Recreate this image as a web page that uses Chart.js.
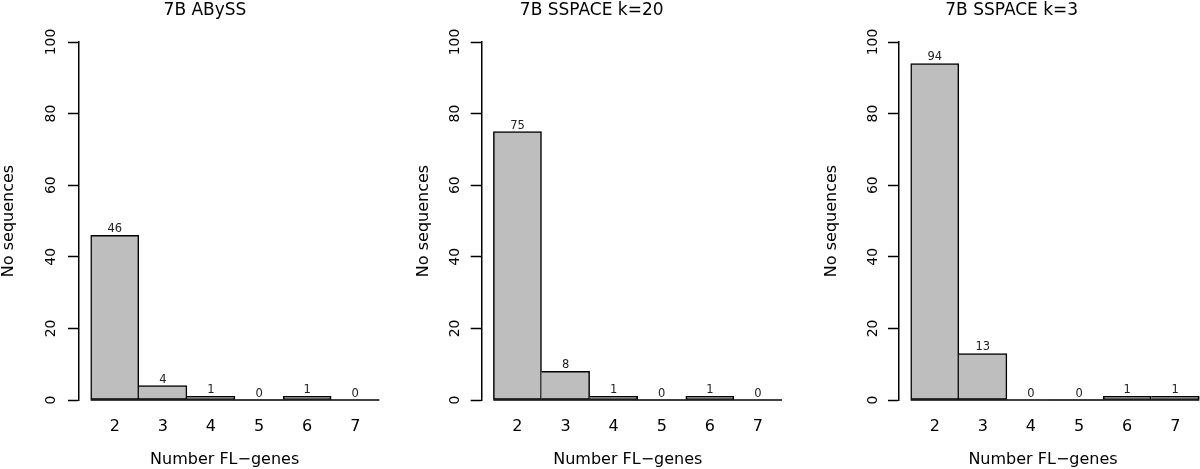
<!DOCTYPE html>
<html>
<head>
<meta charset="utf-8">
<script src="https://cdn.jsdelivr.net/npm/chart.js@4/dist/chart.umd.min.js"></script>
<style>
  html, body { margin: 0; padding: 0; background: #fff; }
  #wrap { position: relative; width: 1200px; height: 469px; display: flex; }
  canvas { display: block; }
</style>
</head>
<body>
<div id="wrap">
  <canvas id="c1" width="400" height="469"></canvas>
  <canvas id="c2" width="400" height="469"></canvas>
  <canvas id="c3" width="400" height="469"></canvas>
</div>
<script>
// data
const categories = [2, 3, 4, 5, 6, 7];
const yTicks = [0, 20, 40, 60, 80, 100];
const panelTitles = ['7B ABySS', '7B SSPACE k=20', '7B SSPACE k=3'];
const abyssCounts = [46, 4, 1, 0, 1, 0];
const sspaceK20Counts = [75, 8, 1, 0, 1, 0];
const sspaceK3Counts = [94, 13, 0, 0, 1, 1];
const xTitle = 'Number FL\u2212genes';
const yTitle = 'No sequences';

// layout (px, relative to each 400px panel)
const W = 400, H = 469;
const UNIT = 48.1;      // px per bar
const GAP = 11.7;       // between y axis and first bar
const TICK_LEN = 11;
const Y_TICK_SIZE = 14;
const FONT = 'DejaVu Sans';
const layouts = [
  { axisX: 79, titleX: 205, xTitleX: 220.5, yTitleX: 9.3, yTickX: 51.7 },
  { axisX: 81.7, titleX: 191.7, xTitleX: 227.8, yTitleX: 24, yTickX: 55 },
  { axisX: 99, titleX: 211.7, xTitleX: 243, yTitleX: 31.7, yTickX: 73.3 }
];

Chart.defaults.font.family = FONT;
Chart.defaults.color = '#000';

const measure = document.createElement('canvas').getContext('2d');
measure.font = Y_TICK_SIZE + 'px ' + FONT;
const widestYLabel = measure.measureText('100').width;

const barLabels = {
  id: 'barLabels',
  afterDatasetsDraw(chart) {
    const ctx = chart.ctx;
    const meta = chart.getDatasetMeta(0);
    const counts = chart.data.datasets[0].counts;
    const y0 = chart.scales.y.getPixelForValue(0);
    const first = meta.data[0], last = meta.data[meta.data.length - 1];
    ctx.save();
    // baseline under all bars (zero bars show as a line)
    ctx.strokeStyle = '#000';
    ctx.lineWidth = 1.5;
    ctx.beginPath();
    ctx.moveTo(first.x - first.width / 2, y0);
    ctx.lineTo(last.x + last.width / 2, y0);
    ctx.stroke();
    ctx.fillStyle = '#222';
    ctx.font = '11.5px ' + FONT;
    ctx.textAlign = 'center';
    ctx.textBaseline = 'alphabetic';
    meta.data.forEach((bar, i) => {
      ctx.fillText(String(counts[i]), bar.x, bar.y - 3);
    });
    ctx.restore();
  }
};

function makePanel(id, title, counts, L) {
  // y tick labels are clipped to the y scale box, so keep its left edge clear of them
  const padL = Math.min(2 * L.titleX - (2 * L.xTitleX - L.axisX), L.yTickX - 12);
  const cr = 2 * L.titleX - padL;             // chart area right
  const padR = W - cr;
  const yWidth = L.axisX - padL;
  const xMin = categories[0] - 0.5 - GAP / UNIT;
  const xMax = xMin + (cr - L.axisX) / UNIT;
  const bw = 1.5;

  return new Chart(document.getElementById(id), {
    type: 'bar',
    data: {
      datasets: [{
        counts: counts,
        data: counts.map((c, i) => ({ x: categories[i], y: c })),
        backgroundColor: '#bebebe',
        borderColor: '#000',
        borderSkipped: false,
        borderWidth: ctx => {
          const i = ctx.dataIndex;
          const n = counts.length;
          return {
            top: bw, bottom: bw,
            left: (i === 0 || counts[i] > counts[i - 1]) ? bw : 0,
            right: (i === n - 1 || counts[i] >= counts[i + 1]) ? bw : 0
          };
        },
        barPercentage: 1,
        categoryPercentage: 1,
        clip: false
      }]
    },
    options: {
      responsive: false,
      animation: false,
      events: [],
      layout: { padding: { left: padL, right: padR, top: 0, bottom: 0 } },
      plugins: {
        legend: { display: false },
        tooltip: { enabled: false },
        title: {
          display: true,
          text: title,
          color: '#000',
          font: { size: 17, weight: 'normal' },
          padding: { top: 0, bottom: 21.6 }
        }
      },
      scales: {
        x: {
          type: 'linear',
          offset: false,
          min: xMin,
          max: xMax,
          afterBuildTicks: s => { s.ticks = categories.map(v => ({ value: v })); },
          afterFit: s => { s.height = H - 400; },
          grid: { display: false, drawTicks: false },
          border: { display: false },
          ticks: { font: { size: 16 }, color: '#000', padding: 17, autoSkip: false },
          title: {
            display: true,
            text: xTitle,
            color: '#000',
            font: { size: 16 },
            padding: { top: 0, bottom: 0 }
          }
        },
        y: {
          min: 0,
          max: 100,
          afterBuildTicks: s => { s.ticks = yTicks.map(v => ({ value: v })); },
          afterFit: s => { s.width = yWidth; },
          grid: {
            display: true,
            drawOnChartArea: false,
            drawTicks: true,
            tickLength: TICK_LEN,
            tickWidth: 1.5,
            tickColor: '#000'
          },
          border: { display: true, color: '#000', width: 1.5 },
          ticks: {
            font: { size: Y_TICK_SIZE },
            color: '#000',
            minRotation: 90,
            maxRotation: 90,
            crossAlign: 'center',
            padding: L.axisX - L.yTickX - TICK_LEN - widestYLabel / 2
          },
          title: {
            display: true,
            text: yTitle,
            color: '#000',
            font: { size: 16 },
            padding: { top: L.yTitleX - padL - 9.6, bottom: 0 }
          }
        }
      }
    },
    plugins: [barLabels]
  });
}

makePanel('c1', panelTitles[0], abyssCounts, layouts[0]);
makePanel('c2', panelTitles[1], sspaceK20Counts, layouts[1]);
makePanel('c3', panelTitles[2], sspaceK3Counts, layouts[2]);
</script>
</body>
</html>
